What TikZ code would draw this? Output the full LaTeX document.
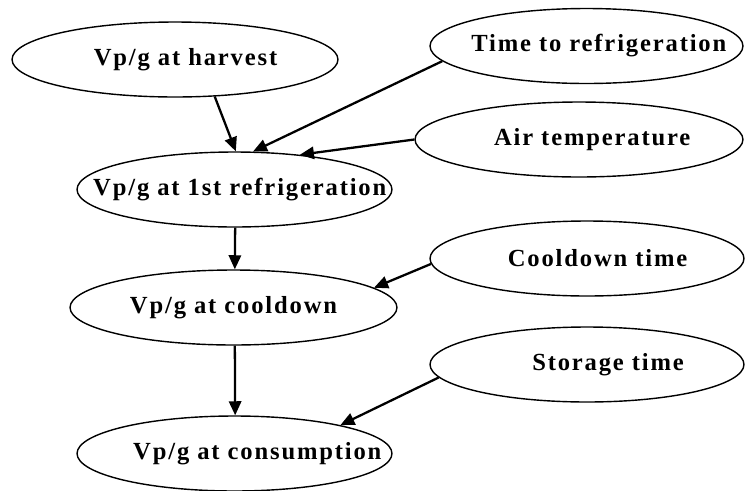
\documentclass[tikz,border=0pt]{standalone}
\usepackage{fontspec}
\setmainfont{Liberation Serif}
\newfontfamily\varfont[LetterSpace=7.5]{Liberation Serif}
\usetikzlibrary{shapes.geometric, arrows.meta}
% ellipse size is set by minimum width/height, not by the text
\newcommand{\vtext}[1]{\makebox[0pt]{#1}}
\tikzset{
  var node/.style={
    ellipse,
    draw,
    line width=0.8pt,
    inner sep=0pt,
    minimum height=1.5cm,
    font=\varfont\bfseries\fontsize{14}{16}\selectfont,
  },
  infl/.style={
    -{Triangle[length=8pt, width=7pt]},
    line width=1.3pt,
  },
}

\begin{document}
\begin{tikzpicture}[x=0.02cm, y=-0.02cm]
      \useasboundingbox (0,0) rectangle (745,491);

      \node[var node, minimum width=6.52cm] (harv) at (175,59.5)   {\vtext{\hspace{12pt}Vp/g at harvest}};
      \node[var node, minimum width=6.30cm] (r1)   at (234.5,189.5) {\vtext{\hspace{6pt}Vp/g at 1st refrigeration}};
      \node[var node, minimum width=6.54cm] (cd)   at (233.5,307.5) {\vtext{Vp/g at cooldown}};
      \node[var node, minimum width=6.30cm] (cons) at (234.5,453.5) {\vtext{\hspace{26pt}Vp/g at consumption}};
      \node[var node, minimum width=6.26cm] (ttr)  at (586.5,46)    {\vtext{\hspace{14pt}Time to refrigeration}};
      \node[var node, minimum width=6.56cm] (air)  at (579,139.5)   {\vtext{\hspace{15pt}Air temperature}};
      \node[var node, minimum width=6.28cm] (cdt)  at (587,258.5)   {\vtext{\hspace{12pt}Cooldown time}};
      \node[var node, minimum width=6.28cm] (st)   at (587,364.5)   {\vtext{\hspace{24pt}Storage time}};

      \path[infl] (harv.-43) edge (r1.88);
      \path[infl] (ttr.186)  edge (r1.64);
      \path[infl] (air.180)  edge (r1.28);
      \path[infl] (r1.-89)   edge (cd.88);
      \path[infl] (cdt.182)  edge (cd.8);
      \path[infl] (cd.-88)   edge (cons.89);
      \path[infl] (st.185)   edge (cons.15);
    \end{tikzpicture}
\end{document}
